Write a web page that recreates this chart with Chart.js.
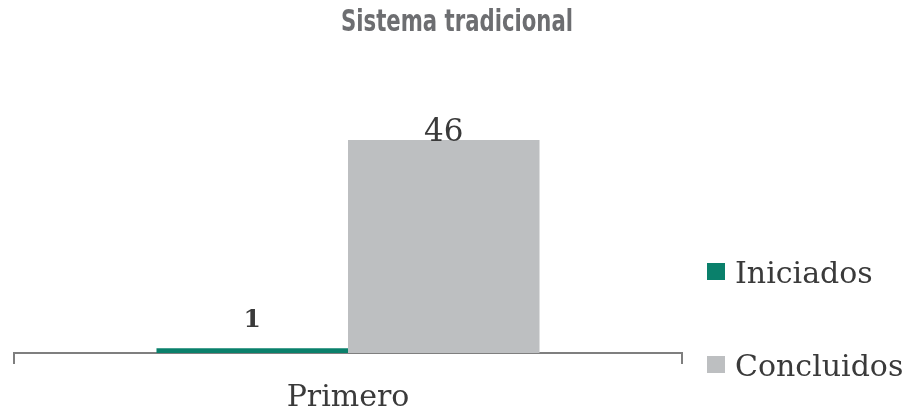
<!DOCTYPE html>
<html><head><meta charset="utf-8">
<script src="https://cdn.jsdelivr.net/npm/chart.js@4.4.1/dist/chart.umd.min.js"></script>
<style>html,body{margin:0;padding:0;background:#fff}#wrap{width:909px;height:415px}</style>
</head><body><div id="wrap"><canvas id="c"></canvas></div>
<script>
const titleText = 'Sistema tradicional';
const categories = ['Primero'];
const seriesNames = ['Iniciados', 'Concluidos'];
const iniciados = [1];
const concluidos = [46];

const serif = '"DejaVu Serif", Georgia, serif';
const axisColor = '#7f7f7f';

const valueLabels = {
  id: 'valueLabels',
  afterDatasetsDraw(chart) {
    const ctx = chart.ctx;
    chart.data.datasets.forEach((ds, i) => {
      const meta = chart.getDatasetMeta(i);
      const lab = ds.valueLabel;
      meta.data.forEach((el, j) => {
        ctx.save();
        ctx.font = lab.font;
        ctx.fillStyle = lab.color;
        ctx.textAlign = 'center';
        ctx.textBaseline = 'alphabetic';
        ctx.fillText(String(ds.data[j]), el.x, el.y - lab.offset);
        ctx.restore();
      });
    });
  }
};

const sideLegend = {
  id: 'sideLegend',
  afterDraw(chart, args, opts) {
    const ctx = chart.ctx, a = chart.chartArea;
    chart.data.datasets.forEach((ds, i) => {
      const base = a.bottom + opts.rows[i];
      const x = a.right + opts.dx;
      ctx.save();
      ctx.fillStyle = ds.backgroundColor;
      ctx.fillRect(x, base - opts.boxH - opts.boxLift, opts.boxW, opts.boxH);
      ctx.font = opts.font;
      ctx.fillStyle = opts.color;
      ctx.textAlign = 'left';
      ctx.textBaseline = 'alphabetic';
      ctx.fillText(ds.label, x + opts.boxW + opts.gap, base);
      ctx.restore();
    });
  }
};

const condensedTitle = {
  id: 'condensedTitle',
  afterDraw(chart, args, opts) {
    const ctx = chart.ctx;
    ctx.save();
    ctx.font = opts.font;
    ctx.fillStyle = opts.color;
    ctx.textAlign = 'center';
    ctx.textBaseline = 'alphabetic';
    const w = ctx.measureText(opts.text).width;
    const sx = Math.min(1, opts.width / w);
    ctx.translate(opts.x, opts.y);
    ctx.scale(sx, 1);
    ctx.fillText(opts.text, 0, 0);
    ctx.restore();
  }
};

new Chart(document.getElementById('c'), {
  type: 'bar',
  data: {
    labels: categories,
    datasets: [
      { label: seriesNames[0], data: iniciados, backgroundColor: '#0a806b', borderWidth: 0,
        categoryPercentage: 0.5734, barPercentage: 1.0,
        valueLabel: { font: 'bold 25px ' + serif, color: '#3a3a3a', offset: 21 } },
      { label: seriesNames[1], data: concluidos, backgroundColor: '#bdbfc1', borderWidth: 0,
        categoryPercentage: 0.5734, barPercentage: 1.0,
        valueLabel: { font: '31px ' + serif, color: '#3a3a3a', offset: -1 } }
    ]
  },
  options: {
    responsive: true,
    maintainAspectRatio: false,
    animation: false,
    layout: { padding: { left: 14, right: 227, top: 112.22, bottom: 0 } },
    plugins: {
      legend: { display: false },
      tooltip: { enabled: false },
      title: { display: false },
      condensedTitle: { text: titleText, x: 457, y: 31, width: 232, color: '#6d6e71',
        font: 'bold 30px "Liberation Sans Narrow", "DejaVu Sans Condensed", "DejaVu Sans", sans-serif' },
      sideLegend: { dx: 25, rows: [-70, 23], boxW: 18, boxH: 17, boxLift: 3, gap: 10,
        font: '30px ' + serif, color: '#3a3a3a' }
    },
    scales: {
      x: {
        offset: true,
        grid: { display: true, drawOnChartArea: false, offset: true, tickLength: 11, color: axisColor, lineWidth: 2 },
        border: { display: true, color: axisColor, width: 2 },
        ticks: { color: '#3a3a3a', padding: 19.5, font: { family: serif, size: 30, lineHeight: 1.0 } },
        afterFit(s) { s.height = 62; }
      },
      y: {
        min: 0, max: 52,
        display: false
      }
    }
  },
  plugins: [valueLabels, sideLegend, condensedTitle]
});
</script>
</body></html>
